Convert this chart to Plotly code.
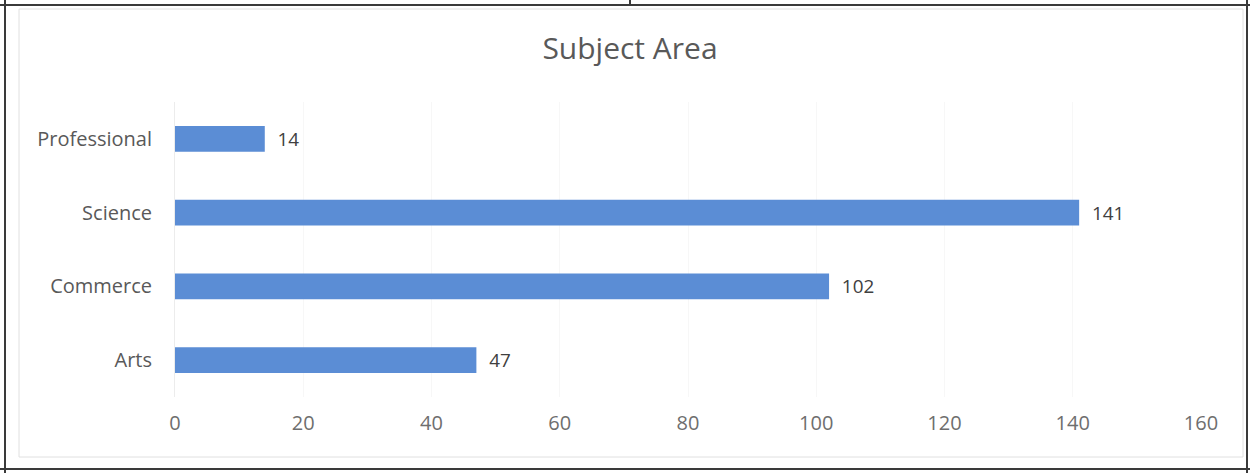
import plotly.graph_objects as go

categories = ["Arts", "Commerce", "Science", "Professional"]
values = [47, 102, 141, 14]
x_ticks = [0, 20, 40, 60, 80, 100, 120, 140, 160]

W, H = 1250, 473
L, R, T, B = 175, 49, 102, 76
pw, ph = W - L - R, H - T - B

def px(x):
    return (x - L) / pw

def py(y):
    return (H - B - y) / ph

fig = go.Figure(go.Bar(
    y=categories, x=values, orientation="h",
    marker=dict(color="#5B8DD5", line=dict(width=0)),
    width=0.35,
    text=["\u00a0\u00a0" + str(v) for v in values], textposition="outside",
    textfont=dict(size=19, color="#404040", family="Open Sans"),
    cliponaxis=False,
))

shapes = []
dark = dict(color="#3a3a3a", width=2)
faint = dict(color="#e0e0e0", width=1)
# inner chart box
shapes.append(dict(type="rect", xref="paper", yref="paper",
                   x0=px(19), x1=px(1243), y0=py(9), y1=py(457), line=faint))
# outer document frame
shapes.append(dict(type="line", xref="paper", yref="paper", x0=px(0), x1=px(1250), y0=py(5), y1=py(5), line=dark))
shapes.append(dict(type="line", xref="paper", yref="paper", x0=px(0), x1=px(1250), y0=py(469), y1=py(469), line=dark))
shapes.append(dict(type="line", xref="paper", yref="paper", x0=px(5), x1=px(5), y0=py(0), y1=py(473), line=dark))
shapes.append(dict(type="line", xref="paper", yref="paper", x0=px(1247), x1=px(1247), y0=py(0), y1=py(473), line=dark))
shapes.append(dict(type="line", xref="paper", yref="paper", x0=px(630), x1=px(630), y0=py(0), y1=py(5), line=dark))

fig.update_layout(
    width=W, height=H,
    margin=dict(l=L, r=R, t=T, b=B),
    paper_bgcolor="white", plot_bgcolor="white",
    title=dict(text="Subject Area", x=630 / W, xanchor="center",
               y=1 - 48 / H, yanchor="middle", yref="container",
               font=dict(size=30, color="#595959", family="Open Sans")),
    xaxis=dict(range=[0, 160], tickvals=x_ticks, showgrid=True,
               gridcolor="#f7f7f7", zeroline=False, showline=False,
               ticks="", tickfont=dict(size=20, color="#6e6e6e", family="Open Sans"),
               ticklabelstandoff=12),
    yaxis=dict(showgrid=False, zeroline=False, showline=True, linecolor="#ececec",
               ticks="", tickfont=dict(size=20, color="#595959", family="Open Sans"),
               ticklabelstandoff=18),
    shapes=shapes,
    showlegend=False,
    font=dict(family="Open Sans"),
)

fig.write_html("out.html", config={"displayModeBar": False},
               post_script="document.body.style.margin='0px';")
